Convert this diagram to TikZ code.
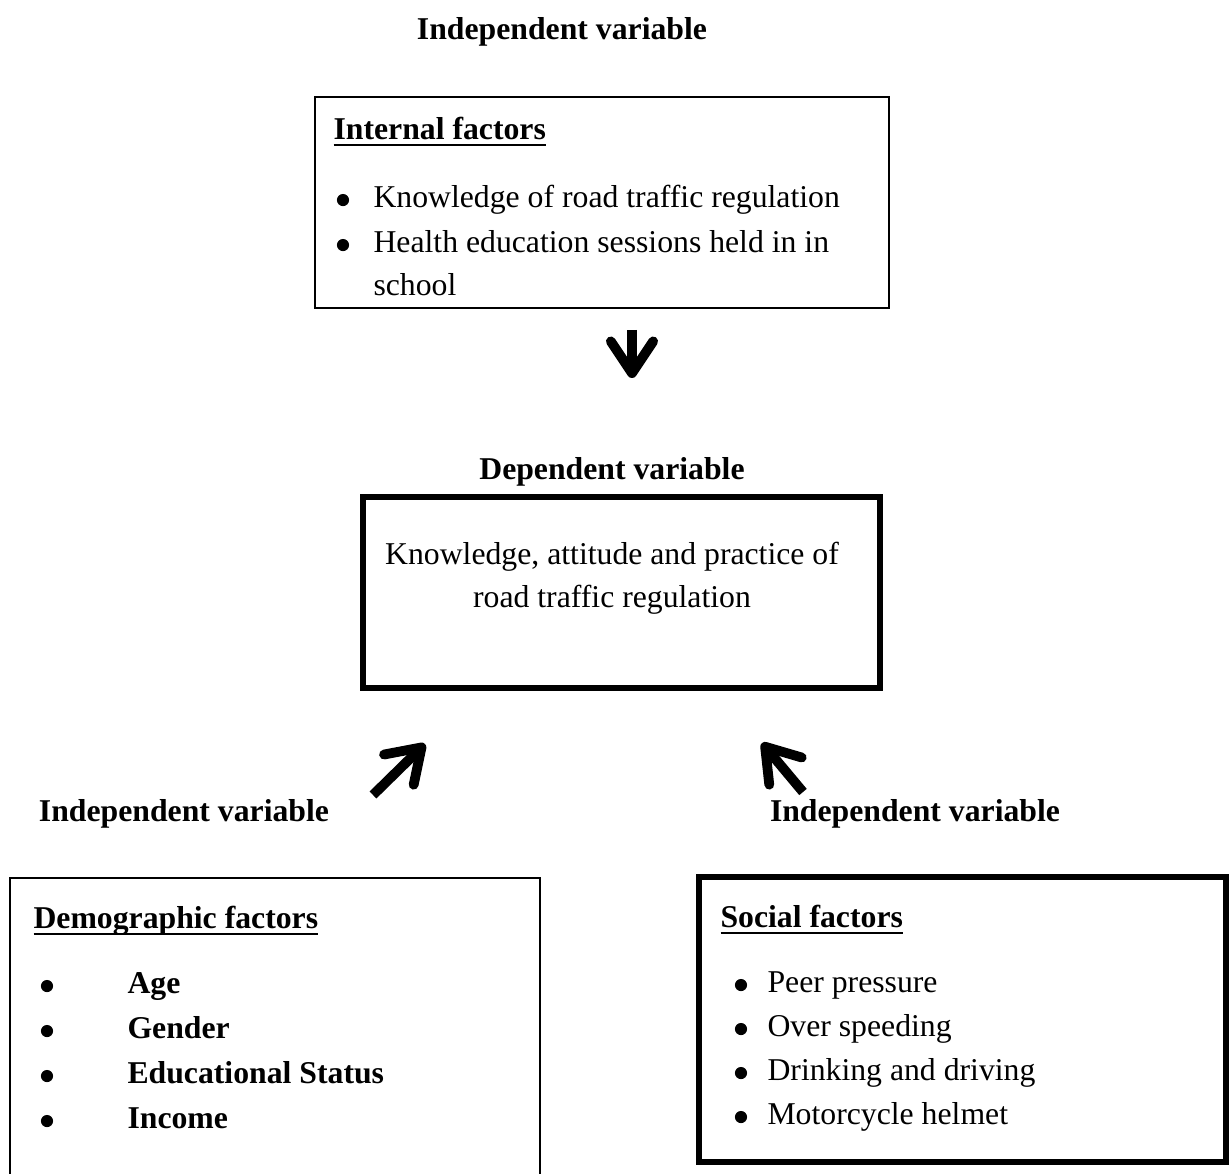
\documentclass[tikz,border=0pt]{standalone}
\usepackage{fontspec}
\setmainfont{Liberation Serif}
\usetikzlibrary{arrows.meta, positioning, fit}

% header with a fixed underline
\newcommand\hdrline[1]{\setbox0\hbox{\bfseries #1}\rlap{\rule[-2.4pt]{\wd0}{0.8pt}}\box0}

\begin{document}
\begin{tikzpicture}[x=0.3782pt, y=-0.3782pt,
    every node/.style={font=\fontsize{12}{14.4}\selectfont, inner sep=0pt},
    thinbox/.style={draw, line width=0.6pt},
    thickbox/.style={draw, line width=1.9pt},
    title/.style={font=\fontsize{12}{14.4}\selectfont\bfseries, anchor=base},
    txt/.style={anchor=base west},
    dot/.style={circle, fill, minimum size=4.6pt, yshift=3pt},
    bigarrow/.style={line width=3.7pt, -{Straight Barb[length=12pt, width=16pt, round]}}]
    \useasboundingbox (0,0) rectangle (1229,1174);

    % internal factors
    \node[title] (indeptop) at (562,40) {Independent variable};
    \draw[thinbox] (315,97) rectangle (889,308);
    \node[txt] (inthdr) at (333,140) {\hdrline{Internal factors}};
    \node[dot] (intdot1) at (343,208) {};
    \node[txt] (int1) at (373,208) {Knowledge of road traffic regulation};
    \node[dot] (intdot2) at (343,253) {};
    \node[txt] (int2) at (373,253) {Health education sessions held in in};
    \node[txt] (int3) at (373,296) {school};

    \coordinate (downtail) at (632,330);
    \coordinate (downtip) at (632,378);
    \draw[bigarrow] (downtail) -- (downtip);

    % dependent variable
    \node[title] (dep) at (612,480) {Dependent variable};
    \draw[thickbox] (363,497) rectangle (880,688);
    \node[anchor=base] (kap1) at (612,565) {Knowledge, attitude and practice of};
    \node[anchor=base] (kap2) at (612,608) {road traffic regulation};

    \coordinate (lefttail) at (373,795);
    \coordinate (lefttip) at (425,744);
    \draw[bigarrow] (lefttail) -- (lefttip);
    \coordinate (righttail) at (803,792);
    \coordinate (righttip) at (762,743);
    \draw[bigarrow] (righttail) -- (righttip);

    \node[title] (indepleft) at (184,822) {Independent variable};
    \node[title] (indepright) at (915,822) {Independent variable};

    % demographic factors
    \draw[thinbox] (10,1174) |- (540,878) -- (540,1174);
    \node[txt] (demhdr) at (33,929) {\hdrline{Demographic factors}};
    \foreach \y/\item [count=\i] in {994/Age, 1039/Gender, 1084/Educational Status, 1129/Income}{
        \node[dot] (demdot\i) at (47,\y) {};
        \node[txt, font=\fontsize{12}{14.4}\selectfont\bfseries] (dem\i) at (127,\y) {\item};
    }

    % social factors
    \draw[thickbox] (699,877) rectangle (1226,1162);
    \node[txt] (sochdr) at (720,928) {\hdrline{Social factors}};
    \foreach \y/\item [count=\i] in {993/Peer pressure, 1037/Over speeding, 1081/Drinking and driving, 1125/Motorcycle helmet}{
        \node[dot] (socdot\i) at (741,\y) {};
        \node[txt] (soc\i) at (767,\y) {\item};
    }
\end{tikzpicture}
\end{document}
